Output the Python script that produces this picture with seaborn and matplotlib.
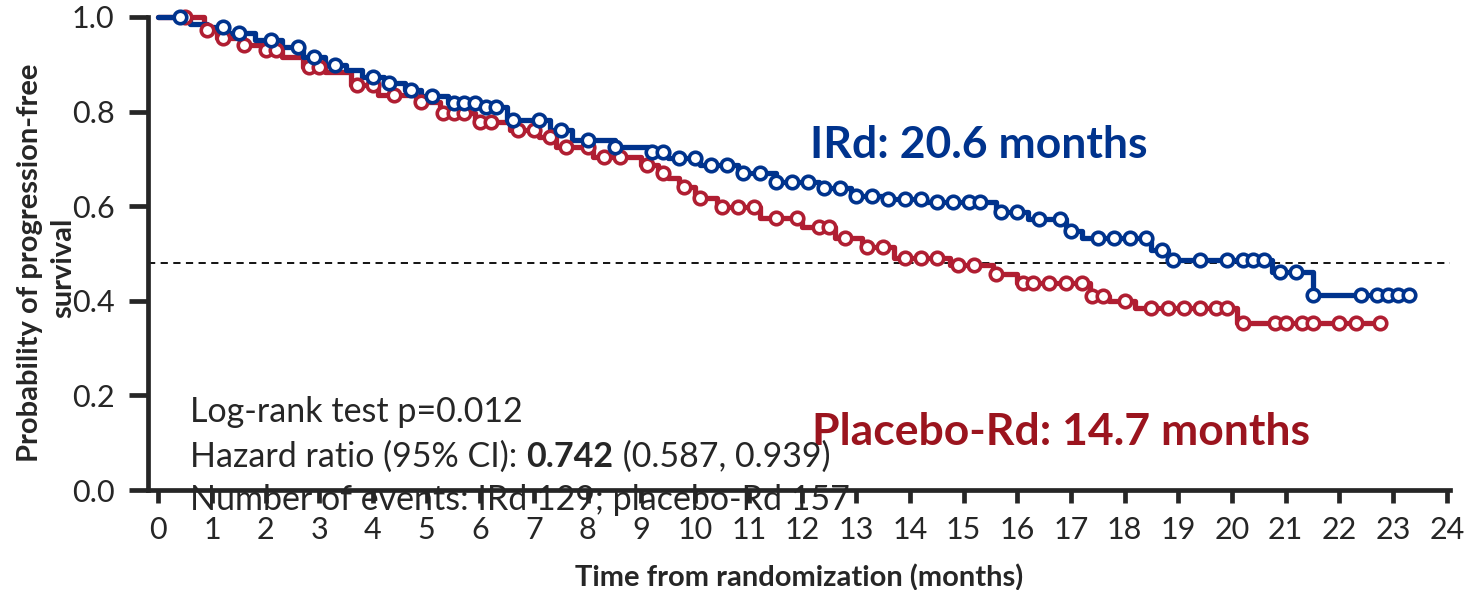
import numpy as np
import pandas as pd
import matplotlib
matplotlib.use("Agg")
import matplotlib.pyplot as plt
import seaborn as sns

# ---------------- data ----------------
ird_times = [0, 0.6, 0.9, 1.3, 1.8, 2.3, 2.7, 3.1, 3.5, 3.8, 4.2, 4.6, 4.9, 5.4, 6.0,
             6.5, 7.3, 7.7, 8.5, 9.2, 9.5, 10.1, 10.8, 11.5, 12.3, 12.9, 13.6, 14.3,
             15.6, 16.2, 16.9, 17.2, 18.5, 18.8, 20.75, 21.5]
ird_surv = [1.0, 0.985, 0.978, 0.967, 0.951, 0.937, 0.916, 0.898, 0.888, 0.874, 0.860,
            0.846, 0.832, 0.818, 0.810, 0.782, 0.761, 0.740, 0.725, 0.715, 0.702, 0.687,
            0.670, 0.651, 0.638, 0.622, 0.615, 0.608, 0.588, 0.572, 0.548, 0.532, 0.507,
            0.486, 0.460, 0.412]
ird_end = 23.3
ird_censor = [0.4, 1.2, 1.5, 2.1, 2.6, 2.9, 3.3, 4.0, 4.3, 4.7, 5.1, 5.5, 5.7, 5.9, 6.1,
              6.3, 6.6, 7.1, 7.5, 8.0, 8.5, 9.2, 9.4, 9.7, 10.0, 10.3, 10.6, 10.9, 11.2,
              11.5, 11.8, 12.1, 12.4, 12.7, 13.0, 13.3, 13.6, 13.9, 14.2, 14.5, 14.8,
              15.1, 15.3, 15.7, 16.0, 16.4, 16.8, 17.0, 17.5, 17.8, 18.1, 18.4, 18.7,
              18.9, 19.4, 19.9, 20.2, 20.4, 20.6, 20.9, 21.2, 21.5, 22.4, 22.7, 22.9,
              23.1, 23.3]

pbo_times = [0, 0.85, 1.1, 1.6, 2.0, 2.3, 2.7, 3.1, 3.6, 4.1, 4.8, 5.25, 5.9, 6.55,
             7.1, 7.4, 8.1, 9.0, 9.3, 9.5, 9.7, 10.0, 10.4, 11.2, 12.0, 12.6, 13.1,
             13.7, 14.75, 15.55, 16.0, 17.35, 17.7, 18.2, 20.1]
pbo_surv = [1.0, 0.973, 0.956, 0.940, 0.930, 0.916, 0.895, 0.884, 0.856, 0.835, 0.821,
            0.797, 0.778, 0.761, 0.746, 0.725, 0.704, 0.687, 0.670, 0.660, 0.641, 0.617,
            0.598, 0.575, 0.556, 0.533, 0.514, 0.490, 0.476, 0.457, 0.438, 0.410, 0.400,
            0.385, 0.353]
pbo_end = 22.76
pbo_censor = [0.5, 0.9, 1.2, 1.6, 2.0, 2.2, 2.8, 3.0, 3.7, 4.0, 4.4, 4.9, 5.3, 5.5, 5.7,
              6.0, 6.2, 6.7, 7.0, 7.3, 7.6, 8.0, 8.3, 8.6, 9.1, 9.4, 9.8, 10.1, 10.5,
              10.8, 11.1, 11.5, 11.9, 12.3, 12.5, 12.8, 13.2, 13.5, 13.9, 14.2, 14.5,
              14.9, 15.2, 15.6, 16.1, 16.3, 16.6, 16.9, 17.2, 17.4, 17.6, 18.0, 18.5,
              18.8, 19.1, 19.4, 19.7, 19.9, 20.2, 20.8, 21.0, 21.3, 21.5, 22.0, 22.3,
              22.75]

median_level = 0.48
x_ticks = list(range(0, 25))
y_ticks = [0.0, 0.2, 0.4, 0.6, 0.8, 1.0]
ylabel_lines = ["Probability of progression-free", "survival"]
ird_label = "IRd: 20.6 months"
pbo_label = "Placebo-Rd: 14.7 months"
stats_lines = ["Log-rank test p=0.012",
               "Number of events: IRd 129; placebo-Rd 157"]
hr_prefix, hr_value, hr_ci = "Hazard ratio (95% CI): ", "0.742", " (0.587, 0.939)"

BLUE = "#00338D"
RED = "#B01E32"
RED_TEXT = "#9B141E"

# ---------------- build tables ----------------
def curve_df(times, surv, end, name):
    return pd.DataFrame({"t": list(times) + [end],
                         "s": list(surv) + [surv[-1]],
                         "arm": name})

def censor_df(times, surv, ctimes, name):
    t = np.asarray(times)
    s = np.asarray(surv)
    idx = np.searchsorted(t, np.asarray(ctimes), side="right") - 1
    return pd.DataFrame({"t": ctimes, "s": s[idx], "arm": name})

curves = pd.concat([curve_df(ird_times, ird_surv, ird_end, "IRd"),
                    curve_df(pbo_times, pbo_surv, pbo_end, "Placebo-Rd")])
cens = pd.concat([censor_df(ird_times, ird_surv, ird_censor, "IRd"),
                  censor_df(pbo_times, pbo_surv, pbo_censor, "Placebo-Rd")])
palette = {"IRd": BLUE, "Placebo-Rd": RED}

# ---------------- plot ----------------
sns.set_theme(style="ticks")
plt.rcParams["font.family"] = ["Lato", "DejaVu Sans"]

fig = plt.figure(figsize=(14.68, 5.9), dpi=100)
ax = fig.add_axes([148 / 1468, 1 - 490 / 590, (1450 - 148) / 1468, (490 - 17) / 590])

ax.axhline(median_level, color="black", lw=1.3, ls=(0, (4, 3)), zorder=1)

for arm in ["Placebo-Rd", "IRd"]:
    sub = curves[curves.arm == arm]
    sns.lineplot(data=sub, x="t", y="s", color=palette[arm], lw=3.8,
                 drawstyle="steps-post", ax=ax, estimator=None, sort=False,
                 legend=False, zorder=3, clip_on=False)
    csub = cens[cens.arm == arm]
    ax.plot(csub.t, csub.s, ls="none", marker="o", ms=9, mfc="white",
            mec=palette[arm], mew=2.6, zorder=4, clip_on=False)

ax.set_xlim(-0.19, 24.06)
ax.set_ylim(0, 1.0)
ax.set_xticks(x_ticks)
ax.set_yticks(y_ticks)
ax.set_yticklabels([f"{v:.1f}" for v in y_ticks])
ax.tick_params(axis="y", direction="out", length=14, width=3.4, labelsize=22, pad=10)
ax.tick_params(axis="x", direction="out", length=9, width=3.4, labelsize=22, pad=10)
for side in ["left", "bottom"]:
    ax.spines[side].set_linewidth(3.4)
for side in ["top", "right"]:
    ax.spines[side].set_visible(False)

ax.set_xlabel("Time from randomization (months)", fontsize=21, fontweight="bold",
              labelpad=14)
ax.set_ylabel("")
fig.text(30 / 1468, 1 - 263 / 590, ylabel_lines[0], rotation=90, ha="center",
         va="center", fontsize=21, fontweight="bold")
fig.text(63 / 1468, 1 - 268 / 590, ylabel_lines[1], rotation=90, ha="center",
         va="center", fontsize=21, fontweight="bold")

ax.text(12.14, 0.729, ird_label, color=BLUE, fontsize=32, fontweight="bold",
        ha="left", va="center")
ax.text(12.18, 0.123, pbo_label, color=RED_TEXT, fontsize=32, fontweight="bold",
        ha="left", va="center")

fs = 24.5
ax.text(0.6, 0.165, stats_lines[0], fontsize=fs, ha="left", va="center")
t1 = ax.text(0.6, 0.07, hr_prefix, fontsize=fs, ha="left", va="center")
t2 = ax.annotate(hr_value, xy=(1, 0), xycoords=t1, fontsize=fs, fontweight="bold",
                 ha="left", va="bottom")
ax.annotate(hr_ci, xy=(1, 0), xycoords=t2, fontsize=fs, ha="left", va="bottom")
ax.text(0.6, -0.021, stats_lines[1], fontsize=fs, ha="left", va="center",
        clip_on=False, zorder=5)

fig.savefig("out.png", dpi=100)
